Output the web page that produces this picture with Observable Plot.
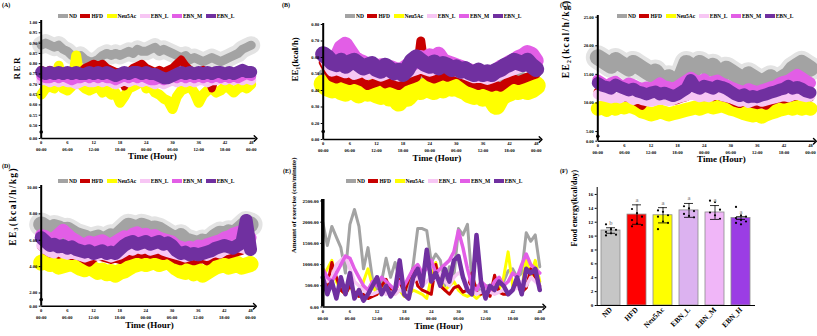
<!DOCTYPE html>
<html><head><meta charset="utf-8">
<script src="https://cdn.jsdelivr.net/npm/d3@7"></script>
<script src="https://cdn.jsdelivr.net/npm/@observablehq/plot@0.6"></script>
<style>
body{margin:0;background:#fff;}
#root{position:relative;width:817px;height:336px;overflow:hidden;font-family:'Liberation Serif',serif;font-weight:bold;color:#000;}
.panel{position:absolute;}
.tag{position:absolute;font-size:6px;line-height:6px;}
.legend{position:absolute;display:flex;align-items:center;font-size:5.5px;line-height:6px;white-space:nowrap;}
.legend .it{display:flex;align-items:center;margin-right:3.5px;}
.legend .sw{display:inline-block;width:10px;height:3.5px;margin-right:1px;}
</style></head>
<body><div id="root"></div>
<script>
// ---------- shared ----------
const hours = d3.range(0, 49);
const tickHours = [0, 6, 12, 18, 24, 30, 36, 42, 48];
const tickClock = ["00:00","06:00","12:00","18:00","00:00","06:00","12:00","18:00","00:00"];
const seriesNames = ["ND","HFD","Neu5Ac","EBN_L","EBN_M","EBN_H"];
const legendLabels = ["ND","HFD","Neu5Ac","EBN_L","EBN_M","EBN_L"];
const colors = {ND:"#a3a3a3", HFD:"#c80000", Neu5Ac:"#ffff00", EBN_L:"#f7c6f4", EBN_M:"#e25ee6", EBN_H:"#7030a0"};
const drawOrder = ["ND","Neu5Ac","HFD","EBN_L","EBN_M","EBN_H"];

// ---------- (A) RER ----------
const A_ND = [0.89,0.90,0.89,0.88,0.89,0.87,0.86,0.84,0.83,0.84, 0.82,0.81,0.81,0.82,0.84,0.85,0.84,0.85,0.84,0.85, 0.86,0.85,0.87,0.86,0.86,0.87,0.88,0.86,0.87,0.86, 0.85,0.84,0.83,0.84,0.82,0.83,0.82,0.81,0.82,0.83, 0.82,0.81,0.82,0.83,0.84,0.85,0.87,0.88,0.89];
const A_HFD = [0.77,0.76,0.77,0.76,0.75,0.76,0.75,0.76,0.75,0.76, 0.78,0.79,0.80,0.79,0.80,0.78,0.77,0.76,0.76,0.69, 0.76,0.78,0.79,0.80,0.78,0.77,0.76,0.77,0.76,0.77, 0.78,0.80,0.82,0.79,0.77,0.76,0.76,0.77,0.75,0.68, 0.75,0.76,0.75,0.76,0.75,0.74,0.75,0.75,0.76];
const A_Neu5Ac = [0.65,0.68,0.69,0.68,0.79,0.68,0.67,0.69,0.84,0.70, 0.68,0.67,0.68,0.69,0.66,0.67,0.65,0.66,0.61,0.64, 0.68,0.69,0.70,0.76,0.68,0.69,0.66,0.65,0.63,0.62, 0.58,0.64,0.67,0.68,0.69,0.66,0.61,0.65,0.67,0.68, 0.66,0.67,0.69,0.68,0.66,0.68,0.69,0.68,0.70];
const A_EBN_L = [0.72,0.72,0.71,0.72,0.71,0.72,0.71,0.71,0.70,0.71, 0.72,0.71,0.71,0.72,0.71,0.72,0.71,0.70,0.71,0.72, 0.71,0.72,0.72,0.71,0.72,0.71,0.70,0.71,0.70,0.71, 0.72,0.71,0.72,0.71,0.72,0.71,0.72,0.72,0.71,0.72, 0.72,0.73,0.72,0.73,0.72,0.73,0.72,0.73,0.72];
const A_EBN_M = [0.74,0.73,0.73,0.74,0.73,0.74,0.73,0.72,0.73,0.73, 0.74,0.73,0.74,0.73,0.74,0.73,0.73,0.72,0.73,0.74, 0.73,0.74,0.73,0.74,0.73,0.72,0.72,0.73,0.72,0.73, 0.74,0.73,0.74,0.73,0.74,0.73,0.74,0.73,0.74,0.73, 0.74,0.73,0.74,0.73,0.74,0.73,0.74,0.75,0.74];
const A_EBN_H = [0.76,0.75,0.76,0.75,0.76,0.75,0.76,0.75,0.76,0.75, 0.75,0.76,0.75,0.76,0.75,0.76,0.75,0.74,0.75,0.76, 0.75,0.76,0.76,0.75,0.76,0.75,0.75,0.74,0.73,0.73, 0.74,0.75,0.76,0.75,0.76,0.75,0.76,0.75,0.76,0.75, 0.76,0.76,0.75,0.76,0.75,0.76,0.77,0.76,0.76];
const A_yTicks = [0, 0.50, 0.55, 0.60, 0.65, 0.70, 0.75, 0.80, 0.85, 0.90, 0.95, 1.00];

// ---------- (B) EE1 kcal/h ----------
const B_ND = [0.50,0.49,0.48,0.47,0.48,0.47,0.46,0.47,0.46,0.45, 0.44,0.45,0.44,0.45,0.46,0.45,0.44,0.45,0.46,0.47, 0.48,0.47,0.48,0.49,0.48,0.47,0.48,0.47,0.46,0.47, 0.45,0.44,0.45,0.44,0.43,0.44,0.43,0.42,0.43,0.44, 0.45,0.46,0.47,0.48,0.47,0.48,0.47,0.46,0.45];
const B_HFD = [0.57,0.52,0.48,0.47,0.48,0.47,0.46,0.47,0.46,0.45, 0.43,0.44,0.45,0.46,0.44,0.45,0.44,0.43,0.45,0.46, 0.47,0.48,0.70,0.50,0.48,0.47,0.48,0.49,0.48,0.49, 0.50,0.49,0.47,0.45,0.44,0.43,0.44,0.43,0.42,0.43, 0.42,0.44,0.46,0.47,0.46,0.47,0.48,0.49,0.50];
const B_Neu5Ac = [0.44,0.42,0.41,0.43,0.40,0.39,0.41,0.40,0.38,0.40, 0.39,0.41,0.38,0.37,0.39,0.36,0.38,0.33,0.37,0.36, 0.39,0.41,0.40,0.42,0.41,0.40,0.42,0.41,0.43,0.42, 0.44,0.41,0.40,0.38,0.37,0.39,0.36,0.37,0.35,0.31, 0.36,0.38,0.39,0.41,0.40,0.42,0.40,0.41,0.43];
const B_EBN_L = [0.62,0.56,0.52,0.53,0.52,0.51,0.52,0.50,0.51,0.52, 0.50,0.51,0.50,0.49,0.50,0.51,0.50,0.49,0.50,0.51, 0.52,0.53,0.54,0.53,0.52,0.53,0.54,0.56,0.55,0.53, 0.52,0.51,0.50,0.49,0.48,0.49,0.48,0.47,0.48,0.49, 0.50,0.51,0.52,0.53,0.54,0.60,0.56,0.55,0.54];
const B_EBN_M = [0.62,0.60,0.58,0.60,0.66,0.68,0.64,0.60,0.58,0.57, 0.55,0.56,0.54,0.55,0.53,0.54,0.53,0.52,0.53,0.55, 0.56,0.58,0.60,0.59,0.61,0.60,0.62,0.58,0.57,0.56, 0.55,0.54,0.53,0.52,0.51,0.50,0.51,0.50,0.51,0.52, 0.54,0.55,0.57,0.58,0.60,0.61,0.63,0.62,0.58];
const B_EBN_H = [0.62,0.60,0.57,0.56,0.58,0.55,0.57,0.58,0.56,0.54, 0.55,0.56,0.53,0.52,0.55,0.53,0.51,0.52,0.50,0.53, 0.58,0.60,0.58,0.56,0.55,0.57,0.54,0.56,0.55,0.53, 0.54,0.52,0.53,0.51,0.50,0.52,0.50,0.51,0.50,0.52, 0.53,0.55,0.56,0.58,0.57,0.56,0.58,0.55,0.53];
const B_yTicks = [0, 0.20, 0.30, 0.40, 0.50, 0.60, 0.70, 0.80];

// ---------- (C) EE2 kcal/h/kg ----------
const C_ND = [18.0,17.5,17.0,16.5,17.5,17.0,16.5,16.0,17.0,16.5, 16.0,15.5,15.0,15.5,14.5,14.0,14.5,13.5,14.0,15.0, 17.0,16.5,16.0,17.0,16.5,16.0,16.5,15.5,15.0,16.0, 15.5,15.0,14.5,14.0,15.0,14.5,14.0,13.5,14.0,14.5, 13.5,14.0,14.5,15.0,16.0,16.5,17.0,16.5,16.0];
const C_HFD = [12.0,11.5,11.0,11.2,11.0,10.8,11.0,10.8,10.5,10.0, 9.5,10.5,10.8,10.5,10.6,10.4,10.5,10.3,10.5,10.8, 11.0,14.5,11.5,11.2,11.0,11.2,11.0,11.3,11.0,10.8, 10.5,10.0,9.8,10.2,10.0,9.8,9.6,9.8,9.5,10.2, 10.5,10.8,10.6,10.8,11.0,11.2,11.5,11.2,11.0];
const C_Neu5Ac = [9.0,9.2,8.8,9.3,9.0,9.4,9.2,9.5,9.3,9.0, 8.5,8.3,8.0,8.2,8.5,8.3,8.0,8.2,8.4,8.6, 8.8,9.0,9.2,9.0,9.3,9.5,9.2,9.4,9.6,9.3, 9.0,8.8,8.5,8.2,8.0,7.8,8.0,7.6,8.0,8.3, 8.5,8.8,9.0,9.2,9.0,9.3,9.0,9.2,9.0];
const C_EBN_L = [11.5,11.2,11.0,10.8,11.0,10.8,11.2,11.0,10.5,10.8, 10.5,10.3,10.2,10.4,10.6,10.5,10.3,10.5,10.8,11.0, 11.2,11.5,11.3,11.0,11.2,11.0,11.3,11.5,11.2,11.0, 10.8,10.5,10.2,10.4,10.0,10.3,10.5,10.2,10.4,10.6, 10.8,11.0,11.2,11.0,11.3,11.5,11.2,11.0,11.2];
const C_EBN_M = [14.0,13.5,13.0,13.5,13.8,13.2,13.0,13.5,13.2,12.8, 12.5,12.8,12.5,13.0,13.5,13.0,12.8,12.5,13.0,13.5, 14.0,14.5,14.0,13.8,14.2,13.5,13.8,14.0,13.5,13.2, 12.8,12.5,12.2,12.0,12.5,12.2,12.0,12.3,12.5,12.8, 13.0,13.5,13.8,14.0,14.5,15.0,14.5,14.0,13.5];
const C_EBN_H = [13.5,13.0,12.8,12.5,13.2,12.8,12.5,12.2,12.5,12.0, 11.8,11.5,11.8,12.0,11.5,11.8,11.5,11.2,11.5,12.0, 12.5,14.0,12.8,12.5,13.0,12.8,12.5,13.0,12.8,12.5, 12.0,11.5,11.2,11.5,11.0,11.2,11.0,11.3,11.5,11.8, 12.0,12.3,12.5,13.0,12.5,12.8,12.5,12.0,11.8];
const C_yTicks = [0, 5, 10, 15, 20, 25];

// ---------- (D) EE3 kcal/h/kg ----------
const D_ND = [7.2,7.0,6.8,7.0,6.9,6.7,6.8,6.6,6.4,6.3, 6.2,6.0,6.1,6.2,6.0,6.1,6.3,6.2,6.5,6.8, 7.1,7.0,6.9,7.1,7.0,6.8,6.9,6.8,6.6,6.4, 6.2,6.1,6.3,6.0,5.9,5.8,5.7,5.9,5.8,6.0, 6.3,6.5,6.4,6.6,6.5,6.7,7.0,7.3,7.2];
const D_HFD = [5.5,5.2,5.0,5.1,4.9,5.0,4.9,4.8,4.9,4.7, 4.5,4.3,4.6,4.8,4.7,4.6,4.5,4.6,4.5,4.7, 4.8,4.9,5.0,4.9,5.0,4.9,5.0,4.9,4.8,4.9, 4.7,4.5,4.4,4.6,4.5,4.4,4.5,4.6,4.4,4.7, 4.8,4.9,5.0,4.9,5.0,5.1,5.2,5.4,6.0];
const D_Neu5Ac = [4.3,4.4,4.2,4.3,4.0,4.1,4.2,4.3,4.1,3.9, 3.8,4.0,3.8,3.6,3.7,3.5,3.6,3.4,3.6,3.7, 3.9,4.1,4.2,4.3,4.2,4.3,4.4,4.2,4.3,4.4, 4.2,3.9,3.7,3.6,3.8,3.5,3.7,3.4,3.6,3.8, 4.0,4.1,4.2,4.0,4.1,4.2,4.0,4.1,4.2];
const D_EBN_L = [5.6,5.3,5.1,5.0,5.2,5.0,4.9,5.0,4.9,4.8, 4.7,4.8,4.9,4.8,4.9,4.8,4.7,4.8,4.9,5.1, 5.3,5.2,5.4,5.3,5.4,5.2,5.3,5.4,5.2,5.1, 5.0,4.9,4.8,4.7,4.8,4.9,4.8,4.9,4.8,5.0, 5.1,5.0,5.2,5.3,5.4,5.5,5.4,5.3,5.5];
const D_EBN_M = [6.4,6.3,6.1,6.2,6.5,6.8,6.5,6.2,6.0,5.8, 5.7,5.9,5.8,5.9,6.0,5.8,5.7,5.9,6.1,6.3, 6.2,6.5,6.6,6.4,6.5,6.3,6.4,6.2,6.1,6.0, 5.9,5.6,5.5,5.4,5.5,5.4,5.6,5.5,5.7,5.8, 5.9,6.0,6.2,6.3,6.5,6.6,6.7,6.4,6.2];
const D_EBN_H = [6.2,5.9,5.6,5.7,5.5,5.6,5.4,5.5,5.3,5.2, 5.1,5.2,5.0,5.1,5.2,5.0,5.1,5.0,5.3,5.6, 5.8,5.9,5.7,5.8,5.9,5.7,5.8,5.9,5.7,5.8, 5.6,5.2,5.0,5.1,4.9,5.0,4.9,5.0,5.1,5.2, 5.4,5.5,5.6,5.5,5.4,5.6,5.8,7.5,5.3];
const D_yTicks = [0, 2, 4, 6, 8, 10];

// ---------- (E) exercise cm/minute ----------
const E_ND = [2000,1450,1900,1650,1400,800,1950,2300,1900,900, 1400,650,350,600,1150,700,1050,650,400,350, 1000,1850,1850,1800,1050,1250,1100,500,950,700, 1850,1700,1950,600,500,350,500,500,400,550, 600,850,900,700,800,1750,1550,1700,950];
const E_HFD = [600,500,1050,700,400,300,500,350,250,300, 200,250,300,500,650,400,350,650,300,650, 900,500,400,350,300,1000,500,400,300,450, 500,350,400,800,350,300,400,250,750,350, 300,300,400,500,350,450,900,700,500];
const E_Neu5Ac = [700,900,1100,600,400,300,500,300,250,600, 900,500,300,400,600,350,300,400,250,300, 400,350,300,200,700,1050,600,400,500,600, 400,300,250,300,200,300,350,300,500,400, 700,1300,500,600,400,1150,700,1100,600];
const E_EBN_L = [800,600,700,1000,1100,1200,900,600,500,400, 300,300,350,400,300,350,300,400,350,300, 600,700,500,600,700,650,800,600,500,700, 800,750,500,400,300,350,400,350,300,350, 400,350,400,450,600,500,700,600,500];
const E_EBN_M = [900,700,600,800,1000,1200,1150,900,700,500, 400,600,500,700,600,500,400,600,500,700, 900,1000,800,900,1100,800,900,1000,1100,1300, 1800,1400,900,500,400,600,500,400,600,700, 500,600,800,700,1000,1250,1000,900,800];
const E_EBN_H = [700,300,600,200,700,300,800,200,400,150, 300,500,700,300,500,250,400,1100,300,200, 700,900,500,1350,600,800,500,900,600,1100, 1200,700,400,300,1700,600,200,500,400,600, 500,300,400,700,300,900,800,900,400];
const E_yTicks = [0, 500, 1000, 1500, 2000, 2500];

// ---------- (F) food energy ----------
const F_groups = ["ND","HFD","Neu5Ac","EBN_L","EBN_M","EBN_H"];
const F_means = [10.8, 13.1, 13.0, 13.7, 13.4, 12.6];
const F_sd = [0.4, 1.4, 1.1, 1.0, 1.0, 0.2];
const F_letters = ["b","a","a","a","a","a"];
const F_points = [
  [11.7, 11.0, 10.9, 10.6, 10.4, 10.2, 10.1],
  [13.9, 13.3, 12.8, 12.3, 11.8, 11.6, 11.4],
  [13.7, 13.5, 13.0, 12.8, 12.1, 11.9, 11.0],
  [14.3, 14.0, 13.6, 13.2, 12.9, 12.7],
  [15.1, 14.9, 13.8, 13.4, 13.0, 12.5],
  [14.2, 13.0, 12.8, 12.6, 12.3, 12.1, 11.9, 11.7]
];
const F_yTicks = [0, 2, 4, 6, 8, 10, 12, 14, 16];
const F_barColors = ["#c6c6c6", "#ff0000", "#ffff00", "#dcb2f0", "#f0b6f8", "#9b3de4"];

// ---------- build ----------
const root = document.getElementById("root");
const clockOf = new Map(tickHours.map((h, i) => [h, tickClock[i]]));
const baseStyle = {background: "transparent", maxWidth: "none", overflow: "visible",
  fontFamily: "'Liberation Serif', 'Times New Roman', serif", fontWeight: "bold"};

function place(el, left, top) {
  const d = document.createElement("div");
  d.className = "panel"; d.style.left = left + "px"; d.style.top = top + "px";
  d.appendChild(el); root.appendChild(d);
}
function tag(text, left, top) {
  const d = document.createElement("div");
  d.className = "tag"; d.textContent = text;
  d.style.left = left + "px"; d.style.top = top + "px";
  root.appendChild(d);
}
function legend(left, cy) {
  const d = document.createElement("div");
  d.className = "legend"; d.style.left = left + "px"; d.style.top = (cy - 3) + "px";
  seriesNames.forEach((s, i) => {
    const it = document.createElement("span"); it.className = "it";
    const sw = document.createElement("span"); sw.className = "sw"; sw.style.background = colors[s];
    const tx = document.createElement("span"); tx.textContent = legendLabels[i];
    it.appendChild(sw); it.appendChild(tx); d.appendChild(it);
  });
  root.appendChild(d);
}

// broken y axis: values below the first non-zero tick are squeezed into a short gap
function breakScale(b, g) {
  if (b == null) return {f: v => v, inv: u => u};
  return {
    f: v => v <= b ? (v / b) * g : g + (v - b),
    inv: u => u <= g ? (u / g) * b : b + (u - g)
  };
}

function tsPlot(p) {
  const bs = breakScale(p.yBreak, p.yGap);
  const mk = s => hours.map((t, i) => ({t, v: p.data[s][i]}));
  const yv = d => bs.f(d.v);
  const marks = [];
  if (p.env) marks.push(Plot.line(mk("ND"), {x: "t", y: yv, stroke: "#e3e3e3", strokeWidth: p.env}));
  drawOrder.forEach(s => marks.push(Plot.line(mk(s), {x: "t", y: yv, stroke: colors[s], strokeWidth: p.sw[s]})));
  marks.push(Plot.ruleX([0], {stroke: "black", strokeWidth: p.yAxisW}));
  marks.push(Plot.link([0], {x1: 0, x2: 49, y1: 0, y2: 0, stroke: "black", strokeWidth: 1.4, markerEnd: "arrow"}));
  if (p.yBreak != null) marks.push(Plot.dot([p.yGap / 2], {x: 0, y: d => d, r: 1.8, fill: "black"}));
  marks.push(Plot.axisY({ticks: p.yTicks.map(bs.f), tickFormat: u => d3.format(".2f")(Math.round(bs.inv(u) * 1000) / 1000), tickSize: 2, tickPadding: 2, fontSize: p.tickFont, label: null}));
  marks.push(Plot.axisX({ticks: tickHours, tickFormat: d => d + "\n" + clockOf.get(d), tickSize: 0, tickPadding: 1, fontSize: 4.5, lineHeight: 1.5, label: null}));
  marks.push(Plot.text(["Time (Hour)"], {text: d => d, frameAnchor: "bottom", dx: p.xLabelDx, dy: p.xLabelDy, fontSize: 9}));
  marks.push(Plot.text([p.yLabel], {text: d => d, frameAnchor: "left", dx: p.yLabelDx, rotate: -90, fontSize: p.yLabelSize}));
  const svg = Plot.plot({
    width: p.width, height: p.height,
    marginLeft: p.ml, marginRight: p.mr, marginTop: p.mt, marginBottom: p.mb,
    x: {domain: [0, 49]},
    y: {domain: [0, bs.f(p.yTop)], range: p.yRange},
    style: baseStyle,
    marks
  });
  if (p.yLabelSpacing) {
    svg.querySelectorAll("text").forEach(t => { if (t.textContent === p.yLabel) t.setAttribute("letter-spacing", p.yLabelSpacing); });
  }
  return svg;
}

const panels = [
  {left: 0, top: 0, width: 272, height: 166, ml: 40.7, mr: 16.9, mt: 20, mb: 28,
   yBreak: 0.5, yGap: 0.063, yTop: 1.0, yRange: [138, 22], yTicks: A_yTicks, tickFont: 4.5,
   data: {ND: A_ND, HFD: A_HFD, Neu5Ac: A_Neu5Ac, EBN_L: A_EBN_L, EBN_M: A_EBN_M, EBN_H: A_EBN_H},
   sw: {ND: 9, HFD: 8, Neu5Ac: 10, EBN_L: 10, EBN_M: 10, EBN_H: 12}, env: 18, yAxisW: 2,
   yLabel: "RER", yLabelDx: -24, yLabelSize: 9, yLabelSpacing: 1.5, xLabelDx: 4, xLabelDy: 20.5,
   tag: ["(A)", 2, 2], legend: [58, 16]},
  {left: 270, top: 0, width: 277, height: 166, ml: 52.7, mr: 6.9, mt: 23, mb: 27,
   yBreak: 0.2, yGap: 0.097, yTop: 0.8, yRange: [139, 24], yTicks: B_yTicks, tickFont: 4.5,
   data: {ND: B_ND, HFD: B_HFD, Neu5Ac: B_Neu5Ac, EBN_L: B_EBN_L, EBN_M: B_EBN_M, EBN_H: B_EBN_H},
   sw: {ND: 10, HFD: 9, Neu5Ac: 19, EBN_L: 12, EBN_M: 15, EBN_H: 16}, env: 0, yAxisW: 2,
   yLabel: "EE\u2081(kcal/h)", yLabelDx: -28, yLabelSize: 9, xLabelDx: 5, xLabelDy: 21.5,
   tag: ["(B)", 282, 2], legend: [345, 16]},
  {left: 545, top: 0, width: 272, height: 166, ml: 52.3, mr: 2.6, mt: 15, mb: 25.3,
   yBreak: 5, yGap: 1.69, yTop: 25, yRange: [140.7, 16.7], yTicks: C_yTicks, tickFont: 4.5,
   data: {ND: C_ND, HFD: C_HFD, Neu5Ac: C_Neu5Ac, EBN_L: C_EBN_L, EBN_M: C_EBN_M, EBN_H: C_EBN_H},
   sw: {ND: 16, HFD: 8, Neu5Ac: 14, EBN_L: 10, EBN_M: 11, EBN_H: 12}, env: 24, yAxisW: 2,
   yLabel: "EE\u2082(kcal/h/kg)", yLabelDx: -32, yLabelSize: 9.5, yLabelSpacing: 1.4, xLabelDx: 15, xLabelDy: 20.5,
   tag: ["(C)", 560, 2], legend: [617, 16]},
  {left: 0, top: 165, width: 272, height: 171, ml: 40.7, mr: 17.6, mt: 20, mb: 30.3,
   yBreak: 2, yGap: 1.0, yTop: 10, yRange: [140.7, 22], yTicks: D_yTicks, tickFont: 4.5,
   data: {ND: D_ND, HFD: D_HFD, Neu5Ac: D_Neu5Ac, EBN_L: D_EBN_L, EBN_M: D_EBN_M, EBN_H: D_EBN_H},
   sw: {ND: 16, HFD: 8, Neu5Ac: 16, EBN_L: 10, EBN_M: 12, EBN_H: 13}, env: 24, yAxisW: 2,
   yLabel: "EE\u2083(kcal/h/kg)", yLabelDx: -28, yLabelSize: 9.5, yLabelSpacing: 1.4, xLabelDx: 1.5, xLabelDy: 22,
   tag: ["(D)", 2, 163], legend: [58, 181]},
  {left: 270, top: 165, width: 278, height: 171, ml: 52.3, mr: 4.2, mt: 34, mb: 29.5,
   yBreak: null, yGap: 0, yTop: 2500, yRange: [141.5, 35.5], yTicks: E_yTicks, tickFont: 5,
   data: {ND: E_ND, HFD: E_HFD, Neu5Ac: E_Neu5Ac, EBN_L: E_EBN_L, EBN_M: E_EBN_M, EBN_H: E_EBN_H},
   sw: {ND: 3, HFD: 3, Neu5Ac: 3, EBN_L: 3.5, EBN_M: 3.5, EBN_H: 4.5}, env: 0, yAxisW: 3.5,
   yLabel: "Amount of exercise (cm/minute)", yLabelDx: -29, yLabelSize: 7, xLabelDx: 5, xLabelDy: 22,
   tag: ["(E)", 283, 168], legend: [346, 181]}
];

panels.forEach(p => {
  place(tsPlot(p), p.left, p.top);
  tag(p.tag[0], p.tag[1], p.tag[2]);
  legend(p.legend[0], p.legend[1]);
});

// ---------- panel F ----------
const fRows = F_groups.map((g, i) => ({g, m: F_means[i], lo: F_means[i] - F_sd[i], hi: F_means[i] + F_sd[i], letter: F_letters[i], fill: F_barColors[i]}));
const fPts = F_groups.flatMap((g, i) => F_points[i].map((v, j) => ({g, v, k: j % 3})));
const offsets = [-5, 0, 5];
const F = Plot.plot({
  width: 272, height: 171, marginLeft: 51.7, marginRight: 62, marginTop: 22, marginBottom: 31,
  x: {domain: F_groups, paddingInner: 0.27, paddingOuter: 0.15},
  y: {domain: [0, 17]},
  style: baseStyle,
  marks: [
    Plot.barY(fRows, {x: "g", y: "m", fill: "fill", stroke: "#8c8c8c", strokeWidth: 0.8}),
    Plot.ruleX(fRows, {x: "g", y1: "lo", y2: "hi", stroke: "black", strokeWidth: 0.8}),
    Plot.tickY(fRows, {x: "g", y: "hi", stroke: "black", strokeWidth: 0.8, insetLeft: 5, insetRight: 5}),
    Plot.tickY(fRows, {x: "g", y: "lo", stroke: "black", strokeWidth: 0.8, insetLeft: 5, insetRight: 5}),
    ...offsets.map((o, k) => Plot.dot(fPts.filter(d => d.k === k), {x: "g", y: "v", r: 1.1, fill: "black", dx: o})),
    Plot.text(fRows, {x: "g", y: "hi", text: "letter", dy: -5, fill: "#9a9a9a", fontSize: 6}),
    Plot.ruleY([0], {stroke: "black", strokeWidth: 1}),
    Plot.frame({anchor: "left", stroke: "black", strokeWidth: 1}),
    Plot.axisY({ticks: F_yTicks, tickSize: 2, tickPadding: 2, fontSize: 5, label: null}),
    Plot.axisX({tickSize: 0, tickRotate: -45, tickPadding: 3, fontSize: 7.5, label: null}),
    Plot.text(["Food energy(kcal/day)"], {text: d => d, frameAnchor: "left", dx: -22.4, rotate: -90, fontSize: 8})
  ]
});
place(F, 545, 165);
tag("(F)", 560, 168);
</script>
</body></html>
